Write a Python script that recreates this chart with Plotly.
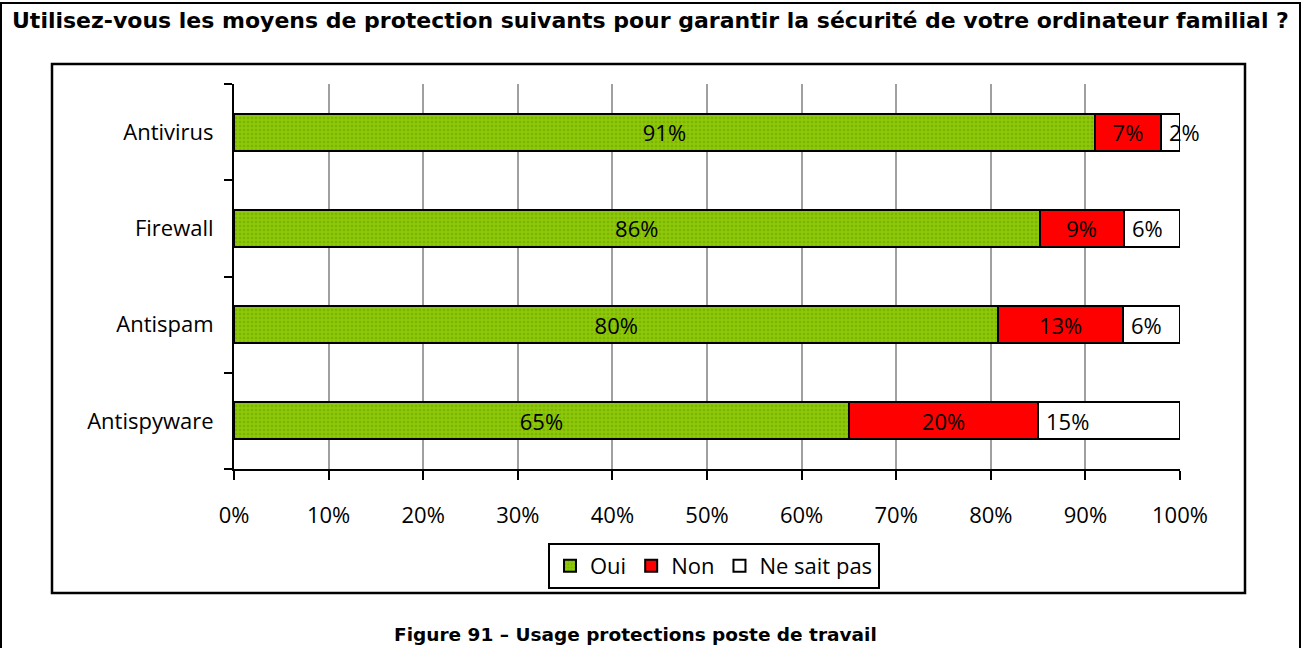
import plotly.graph_objects as go

# Survey answers (percent, as labelled); each row is normalised to 100 %
categories = ["Antivirus", "Firewall", "Antispam", "Antispyware"]
oui = [91, 86, 80, 65]
non = [7, 9, 13, 20]
ne_sait_pas = [2, 6, 6, 15]
x_ticks = [0, 10, 20, 30, 40, 50, 60, 70, 80, 90, 100]
x_tick_labels = [f"{v}%" for v in x_ticks]

title_text = "Utilisez-vous les moyens de protection suivants pour garantir la sécurité de votre ordinateur familial ?"
caption_text = "Figure 91 – Usage protections poste de travail"

W, H = 1307, 648
LABEL_FONT = dict(family="Open Sans, Noto Sans, sans-serif", size=22, color="#000000")
BOLD_FONT = "DejaVu Sans, Verdana, sans-serif"


def px_x(p):
    return p / W


def px_y(p):
    return 1 - p / H


fig = go.Figure()

series = [
    ("Oui", oui, "#8DC80A", "inside"),
    ("Non", non, "#FF0000", "inside"),
    ("Ne sait pas", ne_sait_pas, "#FFFFFF", "none"),
]
for name, vals, color, tpos in series:
    marker = dict(color=color, line=dict(color="#000000", width=2))
    if name == "Oui":
        # fine dotted fill on the green series
        marker["pattern"] = dict(shape=".", fgcolor="#7DB400", bgcolor=color,
                                 size=4, solidity=0.35, fillmode="replace")
    fig.add_trace(go.Bar(
        name=name,
        y=categories,
        x=vals,
        orientation="h",
        width=0.385,
        marker=marker,
        text=[f"{v}%" for v in vals] if tpos != "none" else None,
        textposition=tpos if tpos != "none" else None,
        insidetextanchor="middle",
        textfont=LABEL_FONT,
        constraintext="none",
        cliponaxis=False,
    ))

# Labels of the last segment sit at the start of the segment and may overflow
for cat, a, b, c in zip(categories, oui, non, ne_sait_pas):
    total = a + b + c
    start = (a + b) / total * 100
    fig.add_annotation(
        x=start, y=cat, xref="x", yref="y",
        text=f"{c}%", showarrow=False, xanchor="left", yanchor="middle",
        xshift=6, font=LABEL_FONT,
    )

shapes = [
    # outer frame (open at the bottom edge of the page)
    dict(type="rect", xref="paper", yref="paper",
         x0=px_x(1), x1=px_x(1300), y0=px_y(660), y1=px_y(3),
         line=dict(color="#000000", width=2), fillcolor="rgba(0,0,0,0)", layer="below"),
    # chart frame
    dict(type="rect", xref="paper", yref="paper",
         x0=px_x(52), x1=px_x(1245), y0=px_y(593), y1=px_y(64),
         line=dict(color="#000000", width=2.5), fillcolor="rgba(0,0,0,0)", layer="below"),
]

annotations_extra = [
    dict(text=f"<b>{title_text}</b>", xref="paper", yref="paper",
         x=px_x(650), y=px_y(20), xanchor="center", yanchor="middle",
         showarrow=False, font=dict(family=BOLD_FONT, size=22, color="#000000")),
    dict(text=f"<b>{caption_text}</b>", xref="paper", yref="paper",
         x=px_x(635), y=px_y(634), xanchor="center", yanchor="middle",
         showarrow=False, font=dict(family=BOLD_FONT, size=18.5, color="#000000")),
]
for ann in annotations_extra:
    fig.add_annotation(**ann)

fig.update_layout(
    width=W, height=H,
    margin=dict(l=0, r=0, t=0, b=0, autoexpand=False),
    paper_bgcolor="#FFFFFF",
    plot_bgcolor="#FFFFFF",
    barmode="stack",
    barnorm="percent",
    shapes=shapes,
    showlegend=True,
    legend=dict(
        orientation="h",
        x=px_x(714), xanchor="center",
        y=px_y(543), yanchor="top",
        bordercolor="#000000", borderwidth=2,
        font=LABEL_FONT,
        traceorder="normal",
        itemwidth=30,
    ),
    font=LABEL_FONT,
    xaxis=dict(
        domain=[px_x(234), px_x(1180)],
        range=[0, 100],
        tickvals=x_ticks,
        ticktext=x_tick_labels,
        showgrid=True, gridcolor="#A0A0A0", gridwidth=2,
        showline=True, linecolor="#000000", linewidth=2,
        ticks="outside", ticklen=9, tickwidth=2, tickcolor="#000000",
        ticklabelstandoff=17,
        zeroline=False,
        automargin=False,
        tickfont=LABEL_FONT,
    ),
    yaxis=dict(
        domain=[px_y(469), px_y(84)],
        type="category",
        categoryorder="array",
        categoryarray=categories[::-1],
        tickson="boundaries",
        showgrid=False,
        showline=True, linecolor="#000000", linewidth=2,
        ticks="outside", ticklen=8, tickwidth=2, tickcolor="#000000",
        ticklabelstandoff=14,
        automargin=False,
        tickfont=LABEL_FONT,
    ),
)

fig.write_html("out.html")
